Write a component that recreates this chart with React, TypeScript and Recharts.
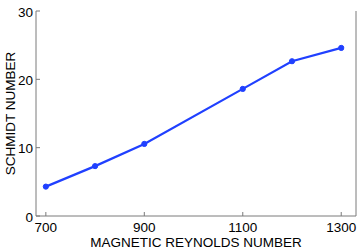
import { LineChart, Line, XAxis, YAxis } from "recharts";

const reynolds = [700, 800, 900, 1100, 1200, 1300];
const schmidt = [4.3, 7.3, 10.55, 18.6, 22.65, 24.6];
const xTicks = [700, 900, 1100, 1300];
const yTicks = [0, 10, 20, 30];

const data = reynolds.map((r, i) => ({ rm: r, sc: schmidt[i] }));

const FONT = "'Liberation Sans', Arial, Helvetica, sans-serif";
const FS = 13.5;
const BOX = "#7a7a7a";
const BLUE = "#2040ff";

const BottomTick = ({ x, y, payload }: any) => (
  <g>
    <line x1={x} y1={y} x2={x} y2={y - 4} stroke={BOX} />
    <text x={x} y={y + 6} dy="0.71em" textAnchor="middle" fontSize={FS} fill="#000" fontFamily={FONT}>
      {payload.value}
    </text>
  </g>
);

const TopTick = ({ x, y }: any) => <line x1={x} y1={y} x2={x} y2={y + 4} stroke={BOX} />;

const LeftTick = ({ x, y, payload }: any) => (
  <g>
    <line x1={x} y1={y} x2={x + 4} y2={y} stroke={BOX} />
    <text x={x - 3} y={y + 1} dy="0.355em" textAnchor="end" fontSize={FS} fill="#000" fontFamily={FONT}>
      {payload.value}
    </text>
  </g>
);

const RightTick = ({ x, y }: any) => <line x1={x} y1={y} x2={x - 4} y2={y} stroke={BOX} />;

export default function App() {
  return (
    <div style={{ position: "absolute", left: 0, top: 0, background: "#fff" }}>
      <LineChart width={360} height={251} data={data} margin={{ top: 11, right: 0, left: 0, bottom: 0 }}>
        <XAxis
          dataKey="rm"
          type="number"
          domain={[680, 1330]}
          ticks={xTicks}
          height={35}
          tickSize={0}
          tickMargin={0}
          tick={<BottomTick />}
          tickLine={false}
          axisLine={{ stroke: BOX }}
          label={{
            value: "MAGNETIC REYNOLDS NUMBER",
            position: "insideBottom",
            offset: 4,
            style: { fontSize: FS, fontFamily: FONT, fill: "#000" },
          }}
        />
        <XAxis
          xAxisId="top"
          orientation="top"
          dataKey="rm"
          type="number"
          domain={[680, 1330]}
          ticks={xTicks}
          height={0}
          tickSize={0}
          tickMargin={0}
          tick={<TopTick />}
          tickLine={false}
          axisLine={{ stroke: BOX }}
        />
        <YAxis
          type="number"
          domain={[0, 30]}
          ticks={yTicks}
          width={36}
          tickSize={0}
          tickMargin={0}
          tick={<LeftTick />}
          tickLine={false}
          axisLine={{ stroke: BOX }}
          label={{
            value: "SCHMIDT NUMBER",
            angle: -90,
            position: "insideLeft",
            offset: 10,
            style: { fontSize: FS, fontFamily: FONT, fill: "#000", textAnchor: "middle" },
          }}
        />
        <YAxis
          yAxisId="right"
          orientation="right"
          type="number"
          domain={[0, 30]}
          ticks={yTicks}
          width={4}
          tickSize={0}
          tickMargin={0}
          tick={<RightTick />}
          tickLine={false}
          axisLine={{ stroke: BOX }}
        />
        <Line
          dataKey="sc"
          stroke={BLUE}
          strokeWidth={2.2}
          dot={{ r: 2.6, fill: BLUE, stroke: BLUE, strokeWidth: 1 }}
          isAnimationActive={false}
        />
      </LineChart>
    </div>
  );
}
